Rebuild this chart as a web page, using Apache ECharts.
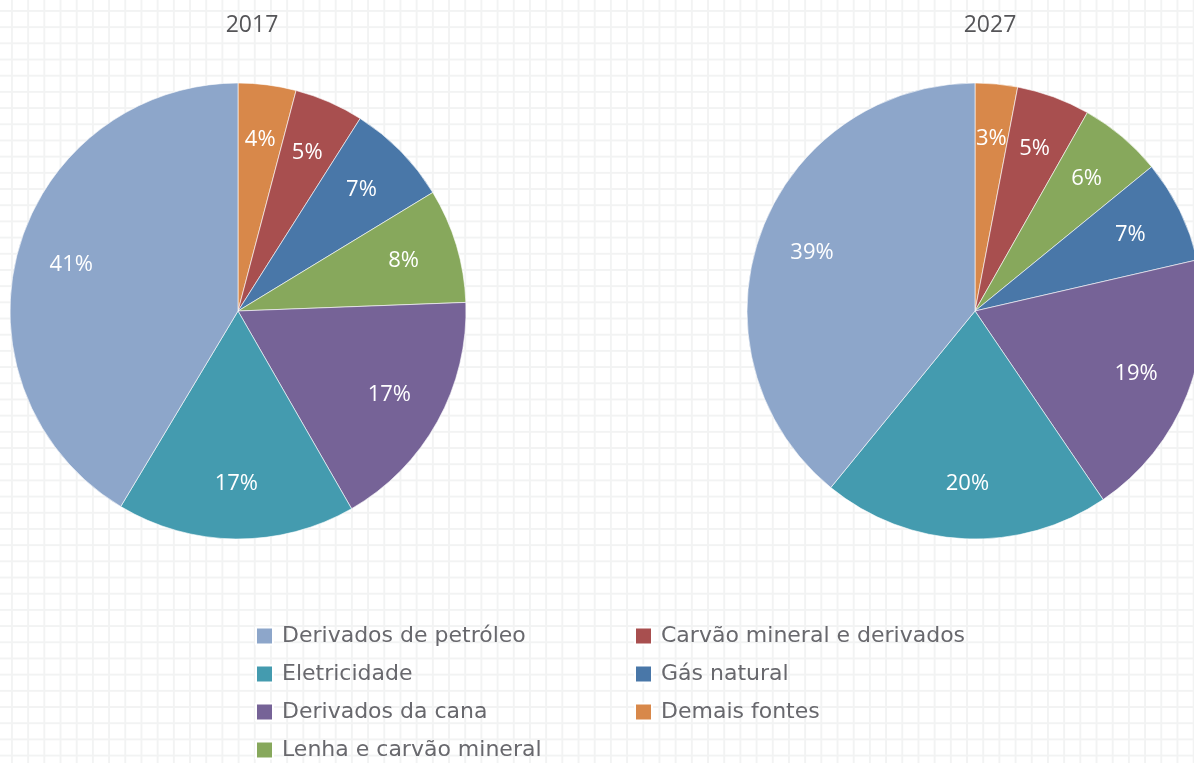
<!DOCTYPE html>
<html lang="pt">
<head>
    <meta charset="UTF-8">
    <title>Consumo final por fonte</title>
    <script src="https://cdn.jsdelivr.net/npm/echarts@6/dist/echarts.min.js"></script>
</head>
<style>
    html, body { margin: 0; padding: 0; }
    #main {
        width: 1194px;
        height: 763px;
        background-color: #fff;
        background-image:
            linear-gradient(to right, #f2f3f3 2px, transparent 2px),
            linear-gradient(to bottom, #f2f3f3 2px, transparent 2px);
        background-size: 16.2px 16.2px;
        background-position: 11px 10px;
    }
</style>
<body>
<div id="main"></div>
<script>
    // fatias em ordem horaria a partir das 12h
    var names2017 = ['Demais fontes', 'Carvão mineral e derivados', 'Gás natural', 'Lenha e carvão mineral',
                     'Derivados da cana', 'Eletricidade', 'Derivados de petróleo'];
    var values2017 = [4.1, 4.9, 7.3, 8.1, 17.3, 16.9, 41.4];

    var names2027 = ['Demais fontes', 'Carvão mineral e derivados', 'Lenha e carvão mineral', 'Gás natural',
                     'Derivados da cana', 'Eletricidade', 'Derivados de petróleo'];
    var values2027 = [3.0, 5.2, 5.9, 7.3, 19.1, 20.4, 39.1];

    var legendLeft = ['Derivados de petróleo', 'Eletricidade', 'Derivados da cana', 'Lenha e carvão mineral'];
    var legendRight = ['Carvão mineral e derivados', 'Gás natural', 'Demais fontes'];

    var colors = {
        'Derivados de petróleo': '#8da6ca',
        'Eletricidade': '#449baf',
        'Derivados da cana': '#766397',
        'Lenha e carvão mineral': '#87a85c',
        'Carvão mineral e derivados': '#a84f4f',
        'Gás natural': '#4977a8',
        'Demais fontes': '#d8884a'
    };

    var fontFam = '"Open Sans", "Noto Sans", sans-serif';

    function toData(names, values) {
        var arr = [];
        for (var i in names) {
            arr.push({ name: names[i], value: values[i], itemStyle: { color: colors[names[i]] } });
        }
        return arr;
    }

    // pizza visivel (sem rotulos)
    function pieSeries(names, values, cx) {
        return {
            type: 'pie',
            center: [cx, 311],
            radius: [0, 228],
            startAngle: 90,
            clockwise: true,
            label: { show: false },
            labelLine: { show: false },
            itemStyle: { borderColor: '#ffffff', borderWidth: 0.6 },
            emphasis: { disabled: true },
            data: toData(names, values)
        };
    }

    // anel transparente so para posicionar os rotulos mais perto da borda
    function labelSeries(names, values, cx) {
        var d = toData(names, values);
        for (var i in d) d[i].itemStyle = { color: 'rgba(0,0,0,0)' };
        return {
            type: 'pie',
            center: [cx, 311],
            radius: [112, 228],
            startAngle: 90,
            clockwise: true,
            silent: true,
            percentPrecision: 2,
            label: {
                show: true,
                position: 'inside',
                formatter: function (p) { return Math.round(p.percent) + '%'; },
                color: '#ffffff',
                fontSize: 22,
                fontFamily: fontFam
            },
            labelLine: { show: false },
            emphasis: { disabled: true },
            data: d
        };
    }

    var legendText = { fontSize: 22, color: '#68686d', fontFamily: '"DejaVu Sans", sans-serif', padding: [0, 0, 0, 4] };

    var myChart = echarts.init(document.getElementById('main'));
    var option = {
        animation: false,
        title: [
            { text: '2017', left: 247, top: 9, textAlign: 'center',
              textStyle: { fontSize: 23, fontWeight: 500, color: '#555558', fontFamily: fontFam } },
            { text: '2027', left: 985, top: 9, textAlign: 'center',
              textStyle: { fontSize: 23, fontWeight: 500, color: '#555558', fontFamily: fontFam } }
        ],
        legend: [
            {
                orient: 'vertical', left: 250, top: 620, height: 200,
                itemWidth: 17, itemHeight: 17, itemGap: 16,
                icon: 'rect', selectedMode: false,
                textStyle: legendText,
                data: legendLeft
            },
            {
                orient: 'vertical', left: 629, top: 620, height: 200,
                itemWidth: 17, itemHeight: 17, itemGap: 16,
                icon: 'rect', selectedMode: false,
                textStyle: legendText,
                data: legendRight
            }
        ],
        series: [
            pieSeries(names2017, values2017, 238),
            pieSeries(names2027, values2027, 975),
            labelSeries(names2017, values2017, 238),
            labelSeries(names2027, values2027, 975)
        ]
    };
    myChart.setOption(option);
</script>
</body>
</html>
